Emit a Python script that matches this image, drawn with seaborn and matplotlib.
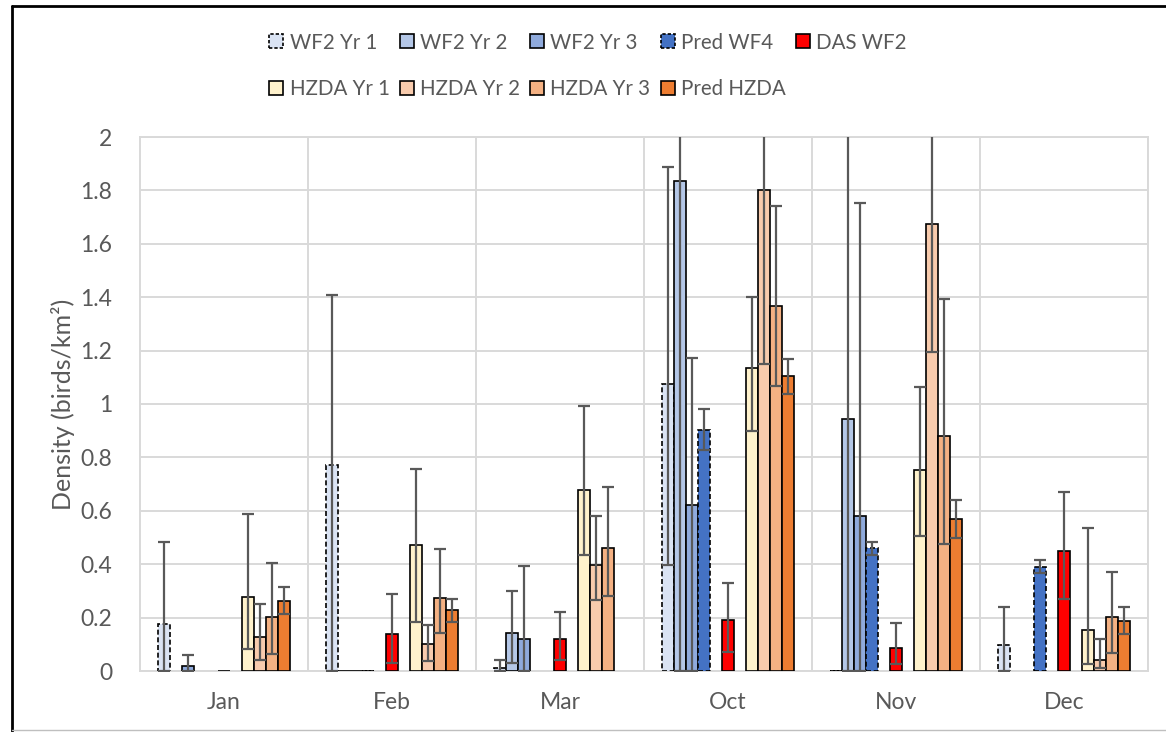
import numpy as np
import pandas as pd
import matplotlib.pyplot as plt
import seaborn as sns
from matplotlib.patches import Patch
from matplotlib.lines import Line2D
from matplotlib.ticker import FuncFormatter, MultipleLocator

# --- Data ---
nan = np.nan
months = ['Jan', 'Feb', 'Mar', 'Oct', 'Nov', 'Dec']
series = ['WF2 Yr 1', 'WF2 Yr 2', 'WF2 Yr 3', 'Pred WF4', 'DAS WF2',
          'HZDA Yr 1', 'HZDA Yr 2', 'HZDA Yr 3', 'Pred HZDA']

wf2_yr1 = [0.176, 0.770, 0.010, 1.076, 0.0, 0.097]
wf2_yr1_lo = [0.0, 0.0, 0.0, 0.396, nan, 0.0]
wf2_yr1_hi = [0.484, 1.408, 0.041, 1.888, nan, 0.240]

wf2_yr2 = [nan, 0.0, 0.144, 1.837, 0.942, nan]
wf2_yr2_lo = [nan, nan, 0.031, 0.0, 0.0, nan]
wf2_yr2_hi = [nan, nan, 0.300, 2.3, 2.3, nan]

wf2_yr3 = [0.020, 0.0, 0.121, 0.620, 0.581, nan]
wf2_yr3_lo = [0.0, nan, 0.0, 0.0, 0.0, nan]
wf2_yr3_hi = [0.060, nan, 0.394, 1.171, 1.751, nan]

pred_wf4 = [nan, 0.0, nan, 0.903, 0.460, 0.388]
pred_wf4_lo = [nan, nan, nan, 0.827, 0.436, 0.366]
pred_wf4_hi = [nan, nan, nan, 0.980, 0.484, 0.416]

das_wf2 = [0.0, 0.139, 0.121, 0.192, 0.088, 0.449]
das_wf2_lo = [nan, 0.031, 0.040, 0.072, 0.028, 0.271]
das_wf2_hi = [nan, 0.290, 0.220, 0.331, 0.178, 0.670]

hzda_yr1 = [0.278, 0.471, 0.679, 1.135, 0.751, 0.155]
hzda_yr1_lo = [0.082, 0.185, 0.433, 0.900, 0.506, 0.027]
hzda_yr1_hi = [0.588, 0.755, 0.993, 1.401, 1.064, 0.536]

hzda_yr2 = [0.126, 0.102, 0.397, 1.803, 1.675, 0.042]
hzda_yr2_lo = [0.042, 0.039, 0.266, 1.148, 1.196, 0.010]
hzda_yr2_hi = [0.251, 0.171, 0.582, 2.3, 2.3, 0.120]

hzda_yr3 = [0.203, 0.275, 0.462, 1.367, 0.882, 0.201]
hzda_yr3_lo = [0.065, 0.144, 0.282, 1.068, 0.476, 0.069]
hzda_yr3_hi = [0.403, 0.457, 0.689, 1.743, 1.394, 0.371]

pred_hzda = [0.263, 0.230, nan, 1.103, 0.569, 0.187]
pred_hzda_lo = [0.212, 0.185, nan, 1.036, 0.498, 0.137]
pred_hzda_hi = [0.315, 0.271, nan, 1.167, 0.640, 0.238]

values = [wf2_yr1, wf2_yr2, wf2_yr3, pred_wf4, das_wf2, hzda_yr1, hzda_yr2, hzda_yr3, pred_hzda]
lows = [wf2_yr1_lo, wf2_yr2_lo, wf2_yr3_lo, pred_wf4_lo, das_wf2_lo,
        hzda_yr1_lo, hzda_yr2_lo, hzda_yr3_lo, pred_hzda_lo]
highs = [wf2_yr1_hi, wf2_yr2_hi, wf2_yr3_hi, pred_wf4_hi, das_wf2_hi,
         hzda_yr1_hi, hzda_yr2_hi, hzda_yr3_hi, pred_hzda_hi]

colors = ['#dae3f3', '#b4c7e7', '#8faadc', '#4472c4', '#ff0000',
          '#fff2cc', '#f8cbad', '#f4b183', '#ed7d31']
dashed = ['WF2 Yr 1', 'Pred WF4']

# Excel leaves two empty slots around DAS WF2
slots = ['WF2 Yr 1', 'WF2 Yr 2', 'WF2 Yr 3', 'Pred WF4', '_gap1', 'DAS WF2', '_gap2',
         'HZDA Yr 1', 'HZDA Yr 2', 'HZDA Yr 3', 'Pred HZDA']
palette = dict(zip(series, colors))
palette['_gap1'] = 'white'
palette['_gap2'] = 'white'

rows = []
for s, vals in zip(series, values):
    for m, v in zip(months, vals):
        rows.append({'Month': m, 'Series': s, 'Density': v})
df = pd.DataFrame(rows).dropna()

lookup = {}
for s, lo, hi in zip(series, lows, highs):
    for i, m in enumerate(months):
        lookup[(i, s)] = (lo[i], hi[i])

# --- Styling ---
sns.set_style("white")
plt.rcParams['font.family'] = ['Lato', 'DejaVu Sans']
text_col = '#595959'
grid_col = '#d9d9d9'

fig = plt.figure(figsize=(11.66, 7.32), dpi=100)
ax = fig.add_axes([140 / 1166, 61 / 732, 1008 / 1166, 534 / 732])

group_w = 0.786
sns.barplot(data=df, x='Month', y='Density', hue='Series', order=months,
            hue_order=slots, palette=palette, saturation=1, width=group_w,
            errorbar=None, edgecolor='black', linewidth=1.2, legend=False,
            ax=ax, zorder=3)

n_slots = len(slots)
bw = group_w / n_slots
for p in ax.patches:
    xc = p.get_x() + p.get_width() / 2
    mi = int(round(xc))
    si = int(round((xc - mi + group_w / 2) / bw - 0.5))
    s = slots[si]
    if s in dashed:
        p.set_linestyle((0, (3, 1.6)))
    lo, hi = lookup.get((mi, s), (nan, nan))
    v = p.get_height()
    if np.isnan(lo) or np.isnan(hi):
        continue
    ax.errorbar(xc, v, yerr=[[v - lo], [hi - v]], fmt='none', ecolor=text_col,
                elinewidth=1.6, capsize=4.3, capthick=1.6, zorder=4)

ax.set_ylim(0, 2)
ax.set_xlim(-0.5, len(months) - 0.5)
ax.yaxis.set_major_locator(MultipleLocator(0.2))
ax.yaxis.set_major_formatter(FuncFormatter(lambda v, _: f"{v:g}"))
ax.set_xticks(np.arange(len(months)) + 0.5, minor=True)
ax.grid(True, axis='y', which='major', color=grid_col, linewidth=1.4, zorder=0)
ax.grid(True, axis='x', which='minor', color=grid_col, linewidth=1.4, zorder=0)
ax.grid(False, axis='x', which='major')
ax.tick_params(axis='both', which='both', length=0, labelsize=16.5, colors=text_col)
ax.tick_params(axis='y', pad=20)
ax.tick_params(axis='x', pad=15)
ax.set_xlabel('')
ax.set_ylabel('Density (birds/km²)', fontsize=18, color=text_col, labelpad=4)
for sp in ax.spines.values():
    sp.set_color(grid_col)
    sp.set_linewidth(1.4)

# --- Legend (two rows, five columns) ---
handles = {}
for s, c in zip(series, colors):
    handles[s] = Patch(facecolor=c, edgecolor='black', linewidth=1.2,
                       linestyle=(0, (2, 1.2)) if s in dashed else '-', label=s)
order = ['WF2 Yr 1', 'HZDA Yr 1', 'WF2 Yr 2', 'HZDA Yr 2', 'WF2 Yr 3',
         'HZDA Yr 3', 'Pred WF4', 'Pred HZDA', 'DAS WF2']
leg = fig.legend([handles[s] for s in order], order, loc='center',
                 bbox_to_anchor=(588 / 1166, 1 - 66 / 732), ncol=5, frameon=False,
                 fontsize=14.8, handlelength=0.68, handleheight=0.68,
                 handletextpad=0.3, columnspacing=0.5, labelspacing=1.3)
for t in leg.get_texts():
    t.set_color(text_col)

# --- Chart border ---
fig.add_artist(Line2D([12 / 1166, 12 / 1166], [0, 1 - 6 / 732], color='black', linewidth=2))
fig.add_artist(Line2D([12 / 1166, 1], [1 - 6 / 732, 1 - 6 / 732], color='black', linewidth=2))
fig.add_artist(Line2D([12 / 1166, 1], [2 / 732, 2 / 732], color='#bfbfbf', linewidth=1))

fig.savefig('out.png', dpi=100)
